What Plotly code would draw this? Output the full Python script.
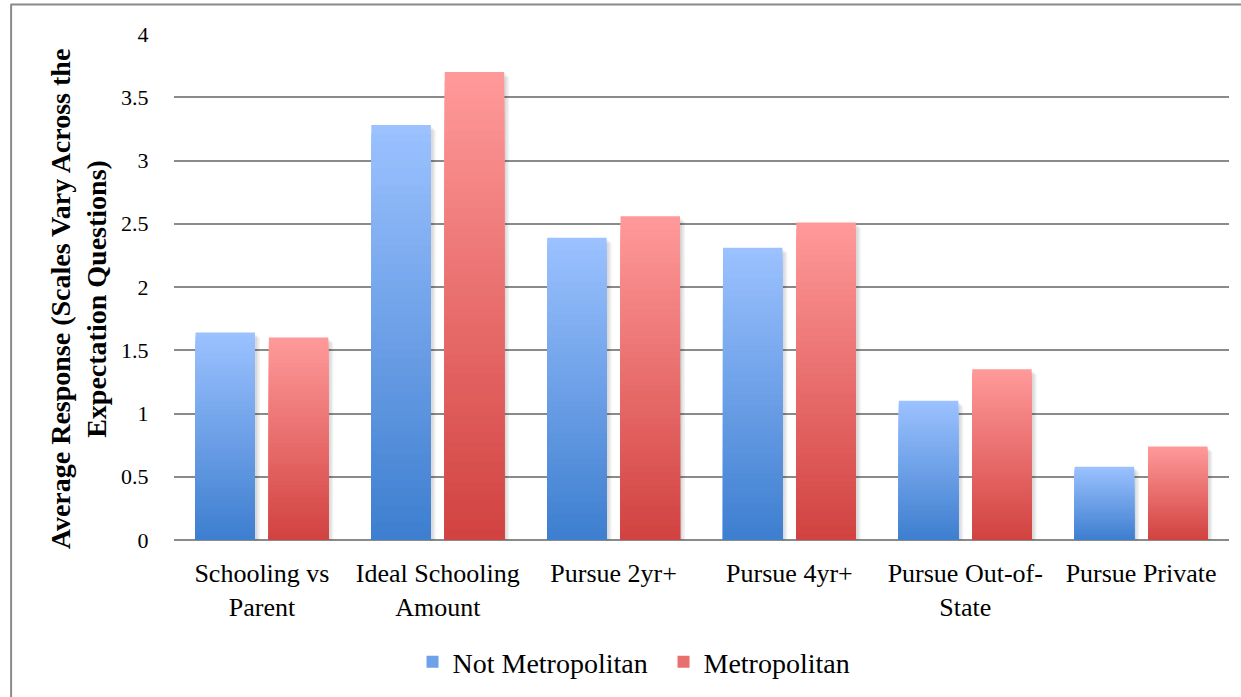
import plotly.graph_objects as go

# Survey expectation items (tick labels wrap onto two lines where needed)
categories = [
    "Schooling vs<br>Parent",
    "Ideal Schooling<br>Amount",
    "Pursue 2yr+",
    "Pursue 4yr+",
    "Pursue Out-of-<br>State",
    "Pursue Private",
]
not_metro = [1.64, 3.28, 2.39, 2.31, 1.10, 0.58]
metro = [1.60, 3.70, 2.56, 2.51, 1.35, 0.74]

y_ticks = [0, 0.5, 1, 1.5, 2, 2.5, 3, 3.5, 4]
y_title = "Average Response (Scales Vary Across the<br>Expectation Questions)"

FONT = "Liberation Serif"
N_SLICES = 48
BARGAP = 0.165
GROUPGAP = 0.19
PX_PER_CAT = 176.0
PX_PER_UNIT = 126.7

series = [
    ("Not Metropolitan", not_metro, (0x3D, 0x7E, 0xCF), (0x9C, 0xC2, 0xFF)),
    ("Metropolitan", metro, (0xD1, 0x42, 0x40), (0xFF, 0x9A, 0x9A)),
]


def lerp(c0, c1, t):
    return "rgb(%d,%d,%d)" % tuple(round(a + (b - a) * t) for a, b in zip(c0, c1))


slot = (1 - BARGAP) / 2
bar_w = slot * (1 - GROUPGAP)

fig = go.Figure()

for k, (name, vals, bottom, top) in enumerate(series):
    left = -slot + k * slot + slot * GROUPGAP / 2
    # soft drop shadow: a few faint layers shifted right and down
    for d in (2, 3.5, 5):
        fig.add_trace(go.Bar(
            x=categories,
            y=vals,
            base=-d / PX_PER_UNIT,
            offset=left + d / PX_PER_CAT,
            width=bar_w,
            offsetgroup=name,
            showlegend=False,
            hoverinfo="skip",
            marker=dict(color="rgba(0,0,0,0.05)", line=dict(width=0)),
        ))
    # gradient fill: nested bars from the full height (lightest) down to the darkest base band
    for i in reversed(range(N_SLICES)):
        t = (i + 0.5) / N_SLICES
        fig.add_trace(go.Bar(
            x=categories,
            y=[v * (i + 1) / N_SLICES for v in vals],
            offset=left,
            width=bar_w,
            name=name,
            offsetgroup=name,
            legendgroup=name,
            showlegend=(i == N_SLICES // 2),
            marker=dict(color=lerp(bottom, top, t), line=dict(width=0)),
            hovertemplate=name + ": %{customdata}<extra></extra>",
            customdata=vals,
        ))

# Outer frame of the chart area (top and left edges)
fig.add_shape(type="line", xref="paper", yref="paper",
              x0=-0.155, x1=1.02, y0=1.0582, y1=1.0582,
              line=dict(color="#8a8a8a", width=2))
fig.add_shape(type="line", xref="paper", yref="paper",
              x0=-0.1544, x1=-0.1544, y0=-0.4, y1=1.0582,
              line=dict(color="#8a8a8a", width=2))

# Value-axis title, rotated
fig.add_annotation(
    text=y_title,
    xref="paper", yref="paper",
    x=-0.0904, y=0.477,
    xanchor="center", yanchor="middle",
    textangle=-90,
    showarrow=False,
    font=dict(family=FONT, size=28, color="black", weight="bold"),
)

fig.update_layout(
    width=1241,
    height=697,
    margin=dict(l=173.5, r=11.5, t=34.3, b=155.7),
    paper_bgcolor="white",
    plot_bgcolor="white",
    barmode="group",
    bargap=BARGAP,
    bargroupgap=GROUPGAP,
    font=dict(family=FONT, size=22, color="black"),
    showlegend=True,
    legend=dict(
        orientation="h",
        x=0.464, xanchor="center",
        y=-0.239, yanchor="middle",
        font=dict(family=FONT, size=28, color="black"),
        entrywidth=206,
        entrywidthmode="pixels",
        traceorder="normal",
        itemclick=False,
    ),
    xaxis=dict(
        showgrid=False,
        showline=False,
        ticks="outside",
        ticklen=10,
        tickcolor="rgba(0,0,0,0)",
        tickfont=dict(family=FONT, size=26, color="black"),
    ),
    yaxis=dict(
        range=[0, 4],
        tickvals=y_ticks,
        ticktext=[("%g" % v) for v in y_ticks],
        showgrid=True,
        gridcolor="#8a8a8a",
        gridwidth=2,
        zeroline=True,
        zerolinecolor="#8a8a8a",
        zerolinewidth=2,
        showline=False,
        ticks="outside",
        ticklen=20,
        tickcolor="rgba(0,0,0,0)",
        tickfont=dict(family=FONT, size=22, color="black"),
    ),
)

fig.write_html("out.html")
